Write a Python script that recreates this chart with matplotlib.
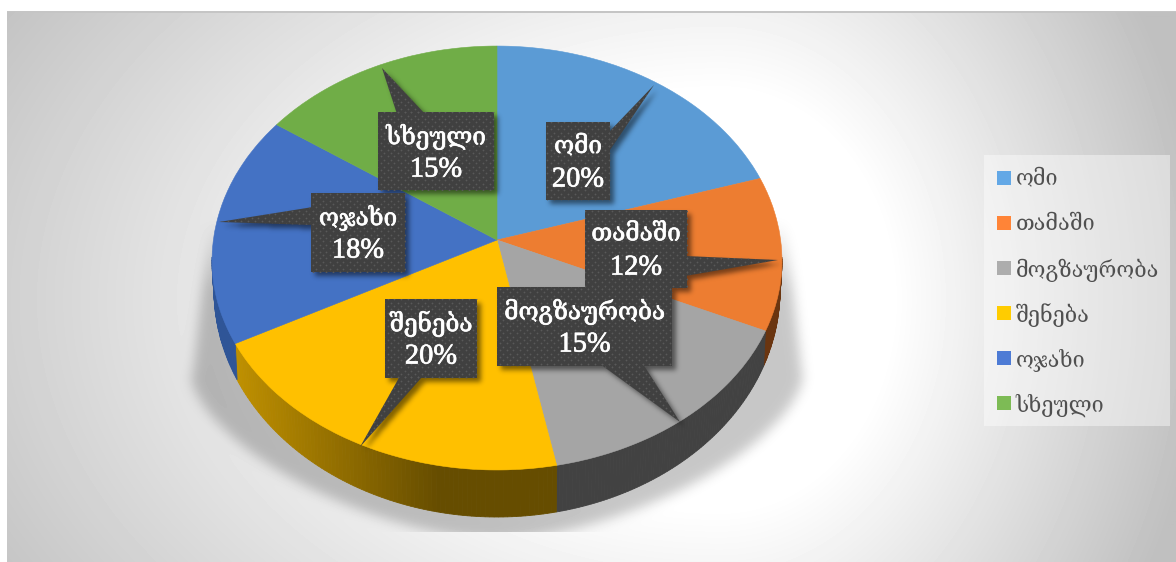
import numpy as np
import matplotlib
matplotlib.use("Agg")
import matplotlib.pyplot as plt
import matplotlib.patheffects as pe
from matplotlib.colors import to_rgb
from matplotlib.path import Path
from matplotlib.patches import Polygon, Rectangle

plt.rcParams['font.family'] = ['Liberation Serif', 'DejaVu Serif', 'DejaVu Sans']

categories = ["ომი", "თამაში", "მოგზაურობა", "შენება", "ოჯახი", "სხეული"]
values = [20, 12, 15, 20, 18, 15]

top_colors = ["#5b9bd5", "#ed7d31", "#a5a5a5", "#ffc000", "#4472c4", "#70ad47"]
wall_colors = ["#2f5f8a", "#6a3510", "#424242", "#664d00", "#2f5597", "#43682b"]
legend_colors = ["#63a8e6", "#ff8437", "#adadad", "#ffcc00", "#4d7bd5", "#7dbb55"]

W, H = 1176, 562

# pie geometry in pixels
cx, apex_y, mid_y = 497, 240, 261
rx, ry_top, ry_bot = 285, 215, 209
k = 0.72

# callout boxes (x0, y0, x1, y1) and tails (base a, base b, tip)
boxes = [(546, 122, 610, 200), (585, 210, 687, 288), (497, 287, 672, 366),
         (385, 299, 477, 378), (311, 193, 405, 272), (378, 112, 494, 190)]
tails = [((608, 133), (608, 153), (654, 85)),
         ((685, 256), (685, 276), (778, 260)),
         ((600, 364), (643, 364), (680, 422)),
         ((400, 376), (423, 376), (360, 447)),
         ((313, 207), (313, 225), (219, 222)),
         ((397, 114), (425, 114), (382, 68))]


def rim_point(theta):
    # where the ray from the apex leaves the top face of the pie
    dx, dy = np.sin(theta), -k * np.cos(theta)
    s = np.linspace(0, 420, 4201)
    px, py = cx + s * dx, apex_y + s * dy
    u = np.abs(px - cx) / rx
    v = py - mid_y
    ry = np.where(v < 0, ry_top, ry_bot)
    inside = u ** 2 + (v / ry) ** 2 <= 1
    i = np.argmin(inside) - 1
    return px[i], py[i]


def lower_rim(x):
    x2 = cx + (x - cx) * 283 / 285
    u = np.clip((x2 - cx) / 283, -1, 1)
    return x2, 290 + 227 * np.sqrt(1 - u ** 2)


def blur(a, sigma):
    n = a.shape
    ky = np.fft.fftfreq(n[0])[:, None]
    kx = np.fft.rfftfreq(n[1])[None, :]
    g = np.exp(-2 * (np.pi * sigma) ** 2 * (kx ** 2 + ky ** 2))
    return np.fft.irfft2(np.fft.rfft2(a) * g, s=n)


def mask_of(points):
    return Path(points).contains_points(grid).reshape(H, W).astype(float)


yy, xx = np.mgrid[0:H, 0:W] + 0.5
grid = np.column_stack([xx.ravel(), yy.ravel()])

# background: soft radial grey with white margin top and left
gx = np.where(xx < 720, (720 - xx) / 767, (xx - 720) / 430)
t = np.sqrt(gx ** 2 + ((yy - 300) / 520) ** 2)
bg = 1 - 0.25 * np.clip((t - 0.4) / 0.73, 0, 1)

# pie shadow on the background
sh = (np.abs(xx - cx) / 306) ** 1.6 + (np.abs(yy - 375) / 165) ** 1.6 <= 1
sh = (sh & (yy > 375)).astype(float)
edge = 193 + (375 - yy) / 175 * 19
trap = (yy <= 376) & (xx > edge) & (xx < 2 * cx + 1 - edge)
sh = np.maximum(sh, trap * np.clip((yy - 220) / 70, 0, 1))
sh = blur(sh, 6)
sh[yy > 532] = 0
bg = bg * (1 - 0.22 * np.clip(sh, 0, 1))
bg[yy < 12] = 1
bg[:, :7] = 1
bg[11:13, 7:] = np.minimum(bg[11:13, 7:], 0.77)

fig = plt.figure(figsize=(W / 100, H / 100), dpi=100)
ax = fig.add_axes([0, 0, 1, 1])
ax.imshow(bg, cmap="gray", vmin=0, vmax=1, extent=(0, W, H, 0), aspect="auto", zorder=0)
ax.set_xlim(0, W)
ax.set_ylim(H, 0)
ax.axis("off")

# walls and top face of every slice
cum = np.cumsum([0] + values) / sum(values) * 2 * np.pi
faces = []
for i in range(len(values)):
    th = np.linspace(cum[i], cum[i + 1], 90)
    rim = np.array([rim_point(a) for a in th])
    faces.append(rim)
    low = rim[:, 1] > mid_y - 5
    for j in np.where(low[:-1] & low[1:])[0]:
        a, b = rim[j], rim[j + 1]
        a2, b2 = lower_rim(a[0]), lower_rim(b[0])
        col = np.array(to_rgb(wall_colors[i]))
        if i == 3:
            # yellow wall gets lighter towards the left
            f = np.clip((440 - a[0]) / 210, 0, 1)
            col = col + f * (np.array(to_rgb("#c29200")) - col)
        ax.add_patch(Polygon([a, b, b2, a2], closed=True, fc=col, ec=col, lw=0.6, zorder=2))

for i, rim in enumerate(faces):
    pts = np.vstack([[cx, apex_y], rim])
    ax.add_patch(Polygon(pts, closed=True, fc=top_colors[i], ec=top_colors[i], lw=0.4, zorder=3))

# callouts: shadow layer, shapes, dot texture and text
shapes = []
for (x0, y0, x1, y1), (a, b, tip) in zip(boxes, tails):
    shapes.append([(x0, y0, x1, y1), np.array([a, tip, b])])

shadow = np.zeros((H, W))
for (x0, y0, x1, y1), tail in shapes:
    m = ((xx > x0 + 4) & (xx < x1 + 4) & (yy > y0 + 4) & (yy < y1 + 4)).astype(float)
    shadow = np.maximum(shadow, m)
    shadow = np.maximum(shadow, mask_of(tail + 4))
shadow = blur(shadow, 2.5)
rgba = np.zeros((H, W, 4))
rgba[..., 3] = np.clip(shadow, 0, 1) * 0.5
ax.imshow(rgba, extent=(0, W, H, 0), aspect="auto", zorder=4)
ax.set_xlim(0, W)
ax.set_ylim(H, 0)

for (x0, y0, x1, y1), tail in shapes:
    box = Rectangle((x0, y0), x1 - x0, y1 - y0, fc="#404040", ec="none", zorder=5)
    tl = Polygon(tail, closed=True, fc="#404040", ec="none", zorder=5)
    ax.add_patch(box)
    ax.add_patch(tl)
    for clip in (box, tl):
        gy, gx2 = np.mgrid[0:H:3.4, 0:W:3.4]
        rows = np.round(gy / 3.4).astype(int)
        cols = np.round(gx2 / 3.4).astype(int)
        keep = (rows + cols) % 2 == 0
        bb = (gx2 > x0 - 110) & (gx2 < x1 + 110) & (gy > y0 - 70) & (gy < y1 + 70)
        dots = ax.scatter(gx2[keep & bb], gy[keep & bb], s=1.6, c="#595959", lw=0, zorder=6)
        dots.set_clip_path(clip)

heavy = [pe.withStroke(linewidth=0.5, foreground="white")]
for name, val, (x0, y0, x1, y1) in zip(categories, values, boxes):
    xm = (x0 + x1) / 2
    ax.text(xm, y0 + 25, name, color="white", fontsize=17.5, ha="center", va="center",
            path_effects=heavy, zorder=7)
    ax.text(xm, y0 + 58, f"{val}%", color="white", fontsize=20.5, ha="center", va="center",
            path_effects=heavy, zorder=7)

# legend
ax.add_patch(Rectangle((984, 155), 186, 271, fc="white", alpha=0.42, ec="none", zorder=2))
for i, name in enumerate(categories):
    y = 171 + i * 45
    ax.add_patch(Rectangle((997, y), 14, 14, fc=legend_colors[i], ec="none", zorder=3))
    ax.text(1015.5, y + 9, name, color="#505050", fontsize=15.6, ha="left", va="center", zorder=3)

fig.savefig("out.png", dpi=100)
